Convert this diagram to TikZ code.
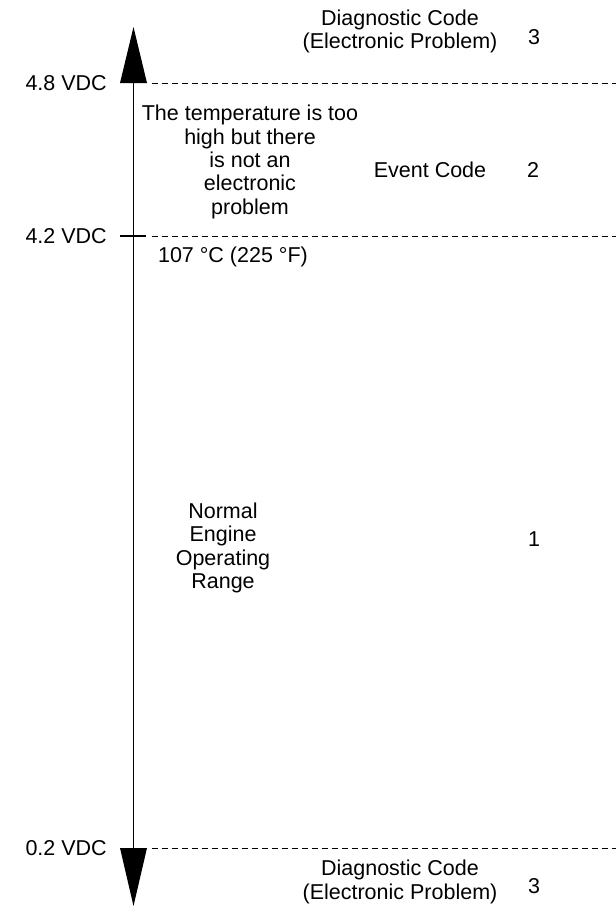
\documentclass[tikz,border=0pt]{standalone}
\usepackage{fontspec}
\setmainfont{Liberation Sans}
\begin{document}
\begin{tikzpicture}[x=1pt,y=-1pt,
  lbl/.style={inner sep=0pt,font=\fontsize{21.5}{23.3}\selectfont,align=center},
  vlabel/.style={lbl,anchor=east},
  axisline/.style={line width=1.1pt},
  dashline/.style={line width=1pt,dash pattern=on 6pt off 4pt},
  head/.style={fill=black,draw=none}]
\useasboundingbox (0,0) rectangle (616,911);
% axis coordinates
\coordinate (top) at (133.5,27);
\coordinate (t48) at (133.5,83);
\coordinate (t42) at (133.5,236);
\coordinate (t02) at (133.5,848);
\coordinate (bot) at (133.5,906);
% axis and arrowheads
\draw[axisline] (t48) -- (t02);
\fill[head] ([xshift=-13.5pt]t48) -- (top) -- ([xshift=13.5pt]t48) -- cycle;
\fill[head] ([xshift=-13.5pt]t02) -- (bot) -- ([xshift=13.5pt]t02) -- cycle;
\draw[axisline] ([xshift=-13.5pt]t42) -- ([xshift=12.5pt]t42);
% dashed level lines
\coordinate (e48) at (616,83);
\coordinate (e42) at (616,236);
\coordinate (e02) at (616,848);
\draw[dashline] ([xshift=18pt]t48) -- (e48);
\draw[dashline] ([xshift=18pt]t42) -- (e42);
\draw[dashline] ([xshift=18pt]t02) -- (e02);
% voltage labels
\node[vlabel] (v48) at (107,83) {4.8 VDC};
\node[vlabel] (v42) at (107,236) {4.2 VDC};
\node[vlabel] (v02) at (107,848) {0.2 VDC};
% region texts
\node[lbl] (diagtop) at (400,31.5) {Diagnostic Code\\(Electronic Problem)};
\node[lbl] (n3top) at (534,37) {3};
\node[lbl] (temp) at (250,162) {The temperature is too\\high but there\\is not an\\electronic\\problem};
\node[lbl] (event) at (430,170) {Event Code};
\node[lbl] (n2) at (533,170) {2};
\node[lbl] (deg) at (233,257) {107 °C (225 °F)};
\node[lbl] (normal) at (223,548) {Normal\\Engine\\Operating\\Range};
\node[lbl] (n1) at (534,539) {1};
\node[lbl] (diagbot) at (400,882) {Diagnostic Code\\(Electronic Problem)};
\node[lbl] (n3bot) at (534,886) {3};
\end{tikzpicture}
\end{document}
